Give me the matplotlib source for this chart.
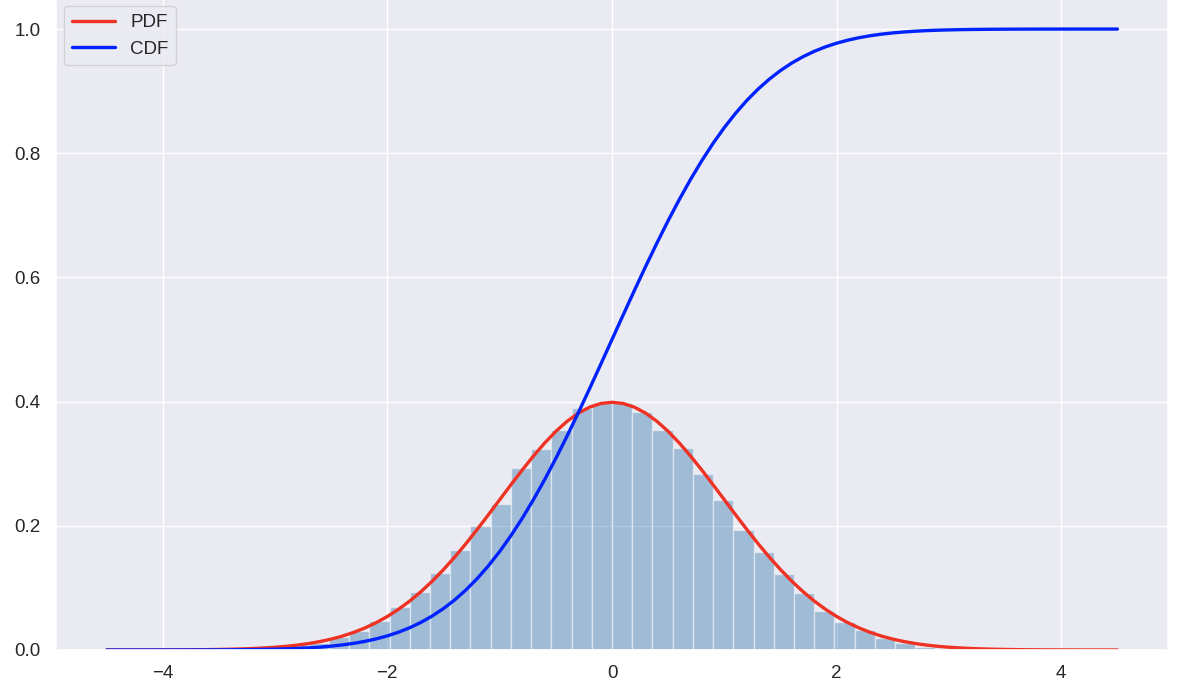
import numpy as np
import matplotlib
matplotlib.use("Agg")
import matplotlib.pyplot as plt
import seaborn as sns

# Histogram: bin edges (-4.5 .. 4.5, 50 bins) and density heights
bin_edges = np.linspace(-4.5, 4.5, 51)
bar_heights = [0, 0, 0, 0, 0, 0, 0.001, 0.002, 0.004, 0.008,
               0.012, 0.021, 0.031, 0.046, 0.069, 0.094, 0.124, 0.161, 0.200, 0.235,
               0.293, 0.324, 0.354, 0.390, 0.397, 0.398, 0.383, 0.354, 0.325, 0.283,
               0.241, 0.193, 0.158, 0.122, 0.092, 0.063, 0.045, 0.032, 0.020, 0.012,
               0.005, 0.003, 0.002, 0.001, 0, 0, 0, 0, 0, 0]

# Curves read at x = -4.5, -4.4, ..., 4.5
curve_x = np.linspace(-4.5, 4.5, 91)
pdf_y = [0.000016, 0.000025, 0.000039, 0.000059, 0.000089, 0.000134, 0.000199,
         0.000292, 0.000425, 0.000612, 0.000873, 0.001232, 0.001723, 0.002384,
         0.003267, 0.004432, 0.005953, 0.007915, 0.010421, 0.013583, 0.017528,
         0.022395, 0.028327, 0.035475, 0.043984, 0.053991, 0.065616, 0.078950,
         0.094049, 0.110921, 0.129518, 0.149727, 0.171369, 0.194186, 0.217852,
         0.241971, 0.266085, 0.289692, 0.312254, 0.333225, 0.352065, 0.368270,
         0.381388, 0.391043, 0.396953, 0.398942, 0.396953, 0.391043, 0.381388,
         0.368270, 0.352065, 0.333225, 0.312254, 0.289692, 0.266085, 0.241971,
         0.217852, 0.194186, 0.171369, 0.149727, 0.129518, 0.110921, 0.094049,
         0.078950, 0.065616, 0.053991, 0.043984, 0.035475, 0.028327, 0.022395,
         0.017528, 0.013583, 0.010421, 0.007915, 0.005953, 0.004432, 0.003267,
         0.002384, 0.001723, 0.001232, 0.000873, 0.000612, 0.000425, 0.000292,
         0.000199, 0.000134, 0.000089, 0.000059, 0.000039, 0.000025, 0.000016]
cdf_y = [0.000003, 0.000005, 0.000009, 0.000013, 0.000021, 0.000032, 0.000048,
         0.000072, 0.000108, 0.000159, 0.000233, 0.000337, 0.000483, 0.000687,
         0.000968, 0.001350, 0.001866, 0.002555, 0.003467, 0.004661, 0.006210,
         0.008198, 0.010724, 0.013903, 0.017864, 0.022750, 0.028717, 0.035930,
         0.044565, 0.054799, 0.066807, 0.080757, 0.096800, 0.115070, 0.135666,
         0.158655, 0.184060, 0.211855, 0.241964, 0.274253, 0.308538, 0.344578,
         0.382089, 0.420740, 0.460172, 0.500000, 0.539828, 0.579260, 0.617911,
         0.655422, 0.691462, 0.725747, 0.758036, 0.788145, 0.815940, 0.841345,
         0.864334, 0.884930, 0.903200, 0.919243, 0.933193, 0.945201, 0.955435,
         0.964070, 0.971283, 0.977250, 0.982136, 0.986097, 0.989276, 0.991802,
         0.993790, 0.995339, 0.996533, 0.997445, 0.998134, 0.998650, 0.999032,
         0.999313, 0.999517, 0.999663, 0.999767, 0.999841, 0.999892, 0.999928,
         0.999952, 0.999968, 0.999979, 0.999987, 0.999991, 0.999995, 0.999997]

sns.set_theme(style="darkgrid")
plt.rcParams['font.family'] = ['Liberation Sans', 'DejaVu Sans']

fig = plt.figure(figsize=(11.95, 6.96), dpi=100)
ax = fig.add_axes([56 / 1195, 46 / 696, 1112 / 1195, 652 / 696])

centers = (bin_edges[:-1] + bin_edges[1:]) / 2
ax.hist(centers, bins=bin_edges, weights=bar_heights, color='steelblue',
        alpha=0.45, edgecolor='white', linewidth=1)
ax.plot(curve_x, pdf_y, color='#EE3224', lw=2.4, label='PDF')
ax.plot(curve_x, cdf_y, color='#0022FF', lw=2.4, label='CDF')

ax.set_xlim(-4.95, 4.95)
ax.set_ylim(0, 1.05)
ax.set_xticks([-4, -2, 0, 2, 4])
ax.set_yticks([0.0, 0.2, 0.4, 0.6, 0.8, 1.0])
ax.tick_params(labelsize=13.5, pad=5)
ax.legend(loc='upper left', fontsize=13.5, borderaxespad=0.45, handlelength=2.3)

fig.savefig('out.png', dpi=100)
